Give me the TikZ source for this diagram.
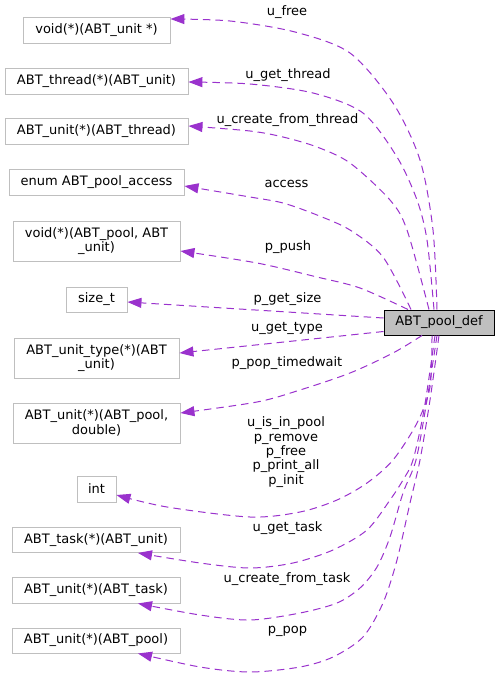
\documentclass[tikz,border=0pt]{standalone}
\usepackage{fontspec}
\setmainfont{DejaVu Sans}
\usetikzlibrary{arrows.meta}
\definecolor{edgec}{HTML}{9A32CD}
\definecolor{boxc}{HTML}{BFBFBF}
\begin{document}
\begin{tikzpicture}[x=1pt,y=-1pt,
  font=\fontsize{13}{14.4}\selectfont,
  tbox/.style={draw=boxc,line width=0.9pt,fill=white,inner sep=0pt,align=center,minimum height=26pt},
  mainbox/.style={draw=black,line width=1pt,fill=boxc,inner sep=0pt,minimum width=110pt,minimum height=25pt},
  edge/.style={draw=edgec,line width=1pt,dash pattern=on 7.5pt off 5pt,-{Triangle[length=14pt,width=10pt]}},
  lbl/.style={inner sep=0pt,align=center}]
\useasboundingbox (0,0) rectangle (500,677);
% nodes
\node[mainbox] (main) at (439,322.5) {ABT\_pool\_def};
\node[tbox,minimum width=147pt] (n1) at (96.5,30) {void(*)(ABT\_unit *)};
\node[tbox,minimum width=183pt] (n2) at (96.5,81) {ABT\_thread(*)(ABT\_unit)};
\node[tbox,minimum width=183pt] (n3) at (96.5,131) {ABT\_unit(*)(ABT\_thread)};
\node[tbox,minimum width=175pt] (n4) at (96.5,182) {enum ABT\_pool\_access};
\node[tbox,minimum width=167pt,minimum height=40pt] (n5) at (96.5,241) {void(*)(ABT\_pool, ABT\\\_unit)};
\node[tbox,minimum width=61pt,minimum height=25pt] (n6) at (96.5,299.5) {size\_t};
\node[tbox,minimum width=165pt,minimum height=40pt] (n7) at (96.5,358) {ABT\_unit\_type(*)(ABT\\\_unit)};
\node[tbox,minimum width=167pt,minimum height=40pt] (n8) at (96.5,423) {ABT\_unit(*)(ABT\_pool,\\double)};
\node[tbox,minimum width=39pt] (n9) at (96.5,489) {int};
\node[tbox,minimum width=168pt,minimum height=25pt] (n10) at (96,540) {ABT\_task(*)(ABT\_unit)};
\node[tbox,minimum width=168pt] (n11) at (96,590) {ABT\_unit(*)(ABT\_task)};
\node[tbox,minimum width=168pt,minimum height=25pt] (n12) at (96,640.5) {ABT\_unit(*)(ABT\_pool)};
% labels
\node[lbl] (l1) at (287,12) {u\_free};
\node[lbl] (l2) at (288,75) {u\_get\_thread};
\node[lbl] (l3) at (287.5,120) {u\_create\_from\_thread};
\node[lbl] (l4) at (286.5,184) {access};
\node[lbl] (l5) at (288,247) {p\_push};
\node[lbl] (l6) at (287.5,299.5) {p\_get\_size};
\node[lbl] (l7) at (287,328.5) {u\_get\_type};
\node[lbl] (l8) at (287,363.5) {p\_pop\_timedwait};
\node[lbl] (l9) at (286,452) {u\_is\_in\_pool\\p\_remove\\p\_free\\p\_print\_all\\p\_init};
\node[lbl] (l10) at (287.5,528) {u\_get\_task};
\node[lbl] (l11) at (287,579) {u\_create\_from\_task};
\node[lbl] (l12) at (287.5,631) {p\_pop};
% edges
\draw[edge] plot[smooth] coordinates {([xshift=-2pt]main.north) (433,230) (420,160) (393,103) (350,53) (295,32) (230,21) ([yshift=11pt]n1.east)};
\draw[edge] plot[smooth] coordinates {([xshift=-5pt]main.north) (427,240) (417,200) (397,157) (363,113) (313,93) (250,84) ([yshift=-1pt]n2.east)};
\draw[edge] plot[smooth] coordinates {([xshift=-10pt]main.north) (407,230) (390,200) (350,163) (317,147) (283,137) (250,131) ([yshift=5pt]n3.east)};
\draw[edge] plot[smooth] coordinates {([xshift=-28pt]main.north) (383,257) (350,230) (317,215) (283,203) (250,197) ([yshift=-4pt]n4.east)};
\draw[edge] plot[smooth] coordinates {([xshift=-31pt]main.north) (360,288) (317,277) (257,263) ([yshift=-10pt]n5.east)};
\draw[edge] ([yshift=4.5pt]main.west) -- ([yshift=-2.5pt]n6.east);
\draw[edge] ([yshift=-9pt]main.west) -- ([yshift=5pt]n7.east);
\draw[edge] plot[smooth] coordinates {([xshift=-17pt]main.south) (393,353) (350,373) (300,390) (257,402) ([yshift=10pt]n8.east)};
\draw[edge] plot[smooth] coordinates {([xshift=-7pt]main.south) (430,387) (417,423) (393,460) (367,483) (337,500) (300,512) (250,517) (167,507) ([yshift=-6pt]n9.east)};
\draw[edge] plot[smooth] coordinates {([xshift=-4pt]main.south) (424,410) (413,460) (403,480) (390,500) (367,530) (333,550) (293,563) (250,568) (200,563) ([xshift=42pt]n10.south)};
\draw[edge] plot[smooth] coordinates {([xshift=-2pt]main.south) (427,400) (416,460) (403,493) (390,537) (377,567) (360,588) (337,603) (300,613) (250,620) (200,615) ([xshift=42pt]n11.south)};
\draw[edge] plot[smooth] coordinates {(main.south) (430,400) (420,460) (410,503) (397,560) (383,603) (363,637) (333,657) (300,667) (250,672) (200,667) ([xshift=42pt]n12.south)};
\end{tikzpicture}
\end{document}
